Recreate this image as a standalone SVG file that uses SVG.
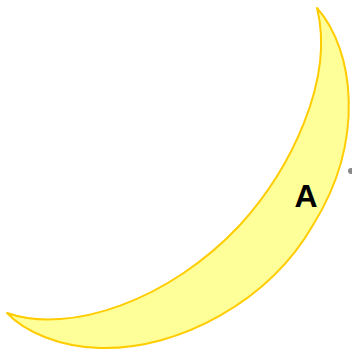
<svg xmlns="http://www.w3.org/2000/svg" width="352" height="353" viewBox="0 0 352 353">
<style>
.moon{fill:#ffff99;stroke:#ffcc00;stroke-width:2;stroke-linejoin:round}
.lbl{font-family:"Liberation Sans",Arial,sans-serif;font-size:32px;font-weight:bold;fill:#000;text-anchor:middle}
</style>
<g id="moon">
<path class="moon" d="M317,8 C354,50 366,140 313,225 C270,300 180,350 100,348 C60,347 25,332 7,313 C70,335 170,300 240,225 C290,170 335,80 317,8 Z"/>
<text class="lbl" x="306" y="207">A</text>
</g>
<g id="connectors">
<circle cx="351" cy="171" r="3" fill="#888888"/>
</g>
</svg>
